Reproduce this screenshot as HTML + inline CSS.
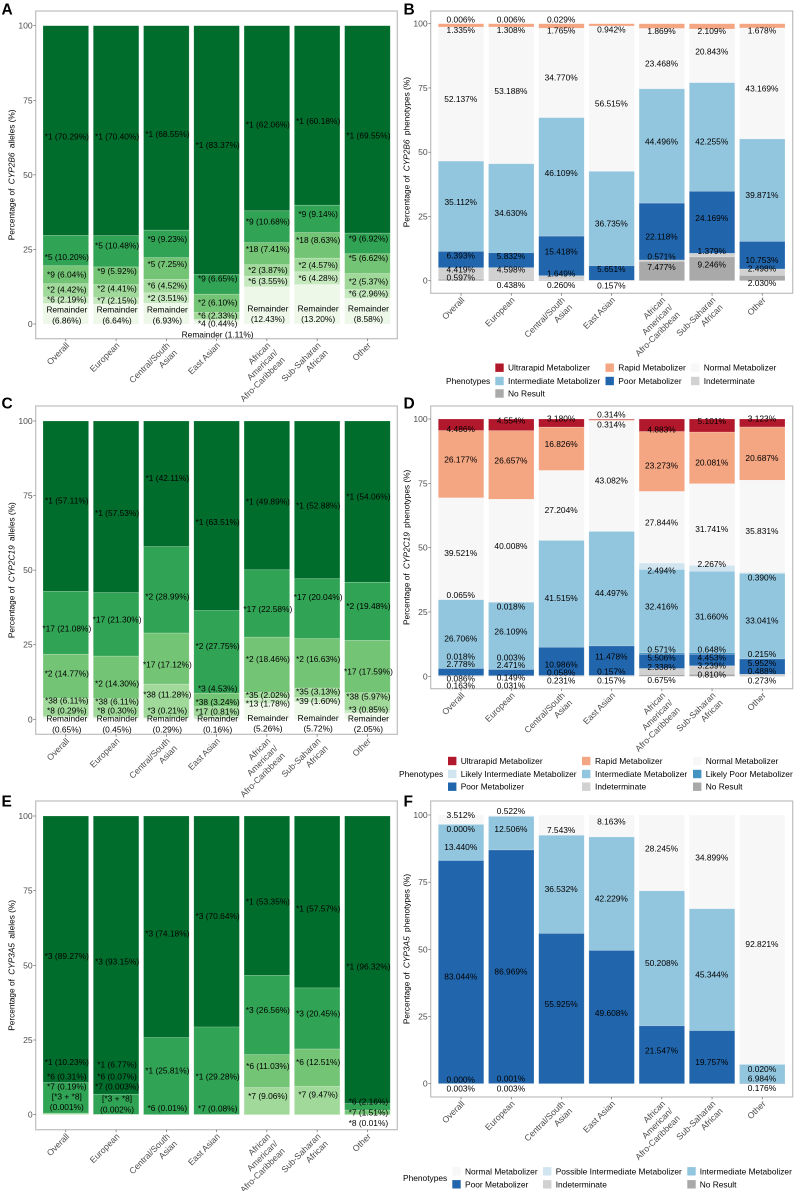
<!DOCTYPE html>
<html lang="en">
<head>
<meta charset="utf-8">
<title>CYP allele and phenotype frequencies</title>
<style>
html,body{margin:0;padding:0;background:#fff;}
svg{display:block;}
text{font-family:"Liberation Sans",Arial,sans-serif;}
</style>
</head>
<body>
<svg id="figure" xmlns="http://www.w3.org/2000/svg" width="796" height="1191" viewBox="0 0 796 1191"></svg>
<script>
const categories = ["Overall","European","Central/South\nAsian","East Asian","African\nAmerican/\nAfro-Caribbean","Sub-Saharan\nAfrican","Other"];
const yTicks = [0,25,50,75,100];

/* Panel A: CYP2B6 alleles */
const allelesA = [
 ["*1","*5","*9","*2","*6","Remainder\n"],
 ["*1","*5","*9","*2","*7","Remainder\n"],
 ["*1","*9","*5","*6","*2","Remainder\n"],
 ["*1","*9","*2","*6","*4","Remainder"],
 ["*1","*9","*18","*2","*6","Remainder\n"],
 ["*1","*9","*18","*2","*6","Remainder\n"],
 ["*1","*9","*5","*2","*6","Remainder\n"]
];
const valuesA = [
 [70.29,10.20,6.04,4.42,2.19,6.86],
 [70.40,10.48,5.92,4.41,2.15,6.64],
 [68.55,9.23,7.25,4.52,3.51,6.93],
 [83.37,6.65,6.10,2.33,0.44,1.11],
 [62.06,10.68,7.41,3.87,3.55,12.43],
 [60.18,9.14,8.63,4.57,4.28,13.20],
 [69.55,6.92,6.62,5.37,2.96,8.58]
];
const labelNudgeA = [
 [-1.95,-2.15,0.16,0.24,0.2,-0.43],
 [-2.0,1.9,1.61,0.96,0.1,-0.3],
 [-2.0,1.7,1.6,0.15,0,-0.47],
 [1.7,2.0,0.2,0.2,-1.2,-4.0],
 [-2.07,1.8,1.55,0.2,0.2,-2.75],
 [-1.85,1.6,1.8,0,0.1,-3.14],
 [-2,1.6,1.9,0,0.2,-0.83]
];

/* Panel C: CYP2C19 alleles */
const allelesC = [
 ["*1","*17","*2","*38","*8","Remainder\n"],
 ["*1","*17","*2","*38","*8","Remainder\n"],
 ["*1","*2","*17","*38","*3","Remainder\n"],
 ["*1","*2","*3","*38","*17","Remainder\n"],
 ["*1","*17","*2","*35","*13","Remainder\n"],
 ["*1","*17","*2","*35","*39","Remainder\n"],
 ["*1","*2","*17","*38","*3","Remainder\n"]
];
const valuesC = [
 [57.11,21.08,14.77,6.11,0.29,0.65],
 [57.53,21.30,14.30,6.11,0.30,0.45],
 [42.11,28.99,17.12,11.28,0.21,0.29],
 [63.51,27.75,4.53,3.24,0.81,0.16],
 [49.89,22.58,18.46,2.02,1.78,5.26],
 [52.88,20.04,16.63,3.13,1.60,5.72],
 [54.06,19.48,17.59,5.97,0.85,2.05]
];
const labelNudgeC = [
 [1.95,-1.95,1,2.27,2.1,-1.88],
 [-2.07,1.7,-2.07,2.2,2.3,-1.8],
 [1.9,-2.2,-2,2.13,2.5,-1.7],
 [-2.1,1.9,3.9,3.2,2,-1.64],
 [-2.1,-1.9,1.9,0.1,-0.9,-3.97],
 [-1.96,3.9,1.45,0.4,-0.37,-4.2],
 [1.8,1.8,-1.7,1.8,0.87,-2.5]
];

/* Panel E: CYP3A5 alleles */
const allelesE = [
 ["*3","*1","*6","*7","[*3 + *8]\n"],
 ["*3","*1","*6","*7","[*3 + *8]\n"],
 ["*3","*1","*6"],
 ["*3","*1","*7"],
 ["*1","*3","*6","*7"],
 ["*1","*3","*6","*7"],
 ["*1","*6","*7","*8"]
];
const valuesE = [
 [89.27,10.23,0.31,0.19,0.001],
 [93.15,6.77,0.07,0.003,0.002],
 [74.18,25.81,0.01],
 [70.64,29.28,0.08],
 [53.35,26.56,11.03,9.06],
 [57.57,20.45,12.51,9.47],
 [96.32,2.16,1.51,0.01]
];
const labelNudgeE = [
 [-2.2,12.1,12.4,9.3,4.35],
 [-2.2,13.4,12.7,9.4,3.56],
 [-2.2,1.9,2.2],
 [1.8,-2,2],
 [-2,1.67,1.7,1.7],
 [-2.2,1.7,1.9,2],
 [-2.18,1.75,-0.1,-2.7]
];

/* Panel B: CYP2B6 phenotypes */
const phenotypesB = ["Ultrarapid Metabolizer","Rapid Metabolizer","Normal Metabolizer","Intermediate Metabolizer","Poor Metabolizer","Indeterminate","No Result"];
const valuesB = [
 [0.006,1.335,52.137,35.112,6.393,4.419,0.597],
 [0.006,1.308,53.188,34.630,5.832,4.598,0.438],
 [0.029,1.765,34.770,46.109,15.418,1.649,0.260],
 [null,0.942,56.515,36.735,5.651,null,0.157],
 [null,1.869,23.468,44.496,22.118,0.571,7.477],
 [null,2.109,20.843,42.255,24.169,1.379,9.246],
 [null,1.678,43.169,39.871,10.753,2.498,2.030]
];
const labelNudgeB = [
 [1.7,-1.83,-1.9,1.63,1.5,1.6,0.87],
 [1.7,-1.84,1.7,-1.88,1.65,1.66,-1.9],
 [1.7,-1.8,-1.8,1.6,1.66,1.64,-1.82],
 [-1.86,-1.93,-1.88,1.56,-1.9],
 [-1.9,-1.83,1.69,-1.98,1.58,1.58],
 [-1.8,1.63,-1.83,1.67,1.61,1.61],
 [-1.88,-1.9,-1.89,-1.86,1.52,-1.92]
];

/* Panel D: CYP2C19 phenotypes */
const phenotypesD = ["Ultrarapid Metabolizer","Rapid Metabolizer","Normal Metabolizer","Likely Intermediate Metabolizer","Intermediate Metabolizer","Likely Poor Metabolizer","Poor Metabolizer","Indeterminate","No Result"];
const valuesD = [
 [4.486,26.177,39.521,0.065,26.706,0.018,2.778,0.086,0.163],
 [4.554,26.657,40.008,0.018,26.109,0.003,2.471,0.149,0.031],
 [3.180,16.826,27.204,null,41.515,null,10.986,0.058,0.231],
 [0.314,0.314,43.082,null,44.497,null,11.478,0.157,0.157],
 [4.883,23.273,27.844,2.494,32.416,0.571,5.506,2.338,0.675],
 [5.101,20.081,31.741,2.267,31.660,0.648,4.453,3.239,0.810],
 [3.123,20.687,35.831,0.390,33.041,0.215,5.952,0.488,0.273]
];
const labelNudgeD = [
 [-1.66,1.87,-1.72,1.87,-1.74,4.74,3.16,-1.1,-3.71],
 [1.76,1.78,1.79,-1.67,1.79,4.61,2.99,-0.63,-3.65],
 [1.85,1.86,-1.67,-1.68,-1.11,1.17,-1.68],
 [1.85,-1.63,-1.73,-1.74,1.73,1.71,-1.77],
 [-1.56,-1.64,1.88,-1.65,1.8,1.7,1.49,1.79,-1.77],
 [1.75,-1.76,-1.75,1.76,-1.78,1.67,0.98,1.72,0.38],
 [1.82,-1.71,-1.72,-1.77,-1.79,1.87,1.45,1.56,-1.7]
];

/* Panel F: CYP3A5 phenotypes */
const phenotypesF = ["Normal Metabolizer","Possible Intermediate Metabolizer","Intermediate Metabolizer","Poor Metabolizer","Indeterminate","No Result"];
const valuesF = [
 [3.512,0.000,13.440,83.044,0.000,0.003],
 [0.522,null,12.506,86.969,0.001,0.003],
 [7.543,null,36.532,55.925,null,null],
 [8.163,null,42.229,49.608,null,null],
 [28.245,null,50.208,21.547,null,null],
 [34.899,null,45.344,19.757,null,null],
 [92.821,0.020,6.984,0.176,null,null]
];
const labelNudgeF = [
 [1.76,-1.69,-1.67,-1.7,1.6,-1.86],
 [1.66,1.58,-1.69,1.99,-1.74],
 [-1.73,-1.69,1.69],
 [1.68,-1.72,1.6],
 [1.59,-1.65,1.63],
 [1.55,-1.73,-1.82],
 [-1.6,-1.71,-1.68,-1.7]
];

const greens = ["#006d2c","#31a354","#74c476","#a1d99b","#c7e9c0","#edf8e9"];
const phenotypeColors = {
 "Ultrarapid Metabolizer":"#b2182b",
 "Rapid Metabolizer":"#f4a582",
 "Normal Metabolizer":"#f7f7f7",
 "Likely Intermediate Metabolizer":"#d1e5f0",
 "Possible Intermediate Metabolizer":"#d1e5f0",
 "Intermediate Metabolizer":"#92c5de",
 "Likely Poor Metabolizer":"#4393c3",
 "Poor Metabolizer":"#2166ac",
 "Indeterminate":"#d1d1d1",
 "No Result":"#a9a9a9"
};

const NS = "http://www.w3.org/2000/svg";
const svg = document.getElementById("figure");

function make(parent, tag, attrs, txt){
  const el = document.createElementNS(NS, tag);
  for (const k in attrs) el.setAttribute(k, attrs[k]);
  if (txt !== undefined) el.textContent = txt;
  parent.appendChild(el);
  return el;
}
function formatPct(v, decimals){
  return v.toFixed(decimals) + "%";
}
function alleleText(name, v){
  const s = "(" + (v < 0.01 ? v.toFixed(3) : v.toFixed(2)) + "%)";
  if (name.endsWith("\n")) return [name.trim(), s];
  return [name + " " + s];
}

function drawAxes(g, p){
  const yOf = v => p.y0 - v * (p.y0 - p.y100) / 100;
  const frame = make(g, "rect", {x:p.left, y:p.top, width:p.right-p.left, height:p.bottom-p.top, fill:"#fff", stroke:"#bdbdbd", "stroke-width":1.2});
  
  

  yTicks.forEach(t => {
    const mark = make(g, "line", {x1:p.left-2.4, x2:p.left, y1:yOf(t), y2:yOf(t), stroke:"#555", "stroke-width":0.6});
    
    
    const lab = make(g, "text", {x:p.left-3, y:yOf(t), "text-anchor":"end", "dominant-baseline":"central", "font-size":8.6, fill:"#4d4d4d"}, String(t));
    
    
  });

  categories.forEach((c, i) => {
    const cx = p.barX0 + i * p.step + p.barW / 2;
    const mark = make(g, "line", {x1:cx, x2:cx, y1:p.bottom, y2:p.bottom+2.4, stroke:"#555", "stroke-width":0.6});
    
    
    c.split("\n").forEach((line, j) => {
      const lab = make(g, "text", {transform:"translate("+(cx+4)+","+(p.bottom+7.3)+") rotate(-45)", x:0, y:j*10.3, "text-anchor":"end", "font-size":8.7, fill:"#4d4d4d"}, line);
      
      
    });
  });

  const cy = (p.top + p.bottom) / 2;
  const tx = p.left - 24.2;
  const title = make(g, "text", {transform:"translate("+tx+","+cy+") rotate(-90)", "text-anchor":"middle", "dominant-baseline":"central", "font-size":8.3, fill:"#000"});
  
  
  make(title, "tspan", {}, "Percentage of ");
  make(title, "tspan", {"font-style":"italic", dx:2}, p.gene);
  make(title, "tspan", {dx:2}, " " + p.kind + " (%)");

  const letter = make(g, "text", {x:p.letterX, y:p.letterY, "font-size":15.5, "font-weight":"bold", fill:"#000"}, p.letter);
  
  
}

function drawStack(g, p, i, segments, nudges){
  const yOf = v => p.y0 - v * (p.y0 - p.y100) / 100;
  const x = p.barX0 + i * p.step;
  const cx = x + p.barW / 2 + p.labelDx;
  let top = 100;
  const labelQueue = [];
  let n = 0;
  segments.forEach(seg => {
    if (seg.value === null) return;
    const bottom = Math.max(top - seg.value, 0);
    const rect = make(g, "rect", {x:x, y:yOf(top), width:p.barW, height:Math.max(yOf(bottom)-yOf(top),0), fill:seg.color, stroke:"#fff", "stroke-opacity":0.3, "stroke-width":0.6});
    
    
    labelQueue.push({lines:seg.lines, y:yOf((top+bottom)/2 + (nudges[n]||0))});
    n++;
    top = bottom;
  });
  labelQueue.forEach(l => {
    l.lines.forEach((t, k) => {
      const ly = l.y + (k - (l.lines.length-1)/2) * 10.7;
      const lab = make(g, "text", {x:cx, y:ly, "text-anchor":"middle", "dominant-baseline":"central", "font-size":8.4, fill:"#000"}, t);
      
      
    });
  });
}

function drawAllelePanel(p, alleles, values, nudges){
  const g = make(svg, "g", {});
  
  
  drawAxes(g, p);
  categories.forEach((c, i) => {
    const segs = values[i].map((v, j) => ({value:v, color:greens[j], lines:alleleText(alleles[i][j], v)}));
    drawStack(g, p, i, segs, nudges[i]);
  });
}

function drawPhenotypePanel(p, phenotypes, values, nudges){
  const g = make(svg, "g", {});
  
  
  drawAxes(g, p);
  categories.forEach((c, i) => {
    const segs = values[i].map((v, j) => ({value:v, color:phenotypeColors[phenotypes[j]], lines: v === null ? [] : [formatPct(v, 3)]}));
    drawStack(g, p, i, segs, nudges[i]);
  });

  const leg = make(g, "g", {});
  
  
  const lt = make(leg, "text", {x:p.legend.titleX, y:p.legend.titleY, "dominant-baseline":"central", "font-size":8.4, fill:"#000"}, "Phenotypes");
  
  
  phenotypes.forEach((name, j) => {
    const col = j % 3, row = Math.floor(j / 3);
    const sx = p.legend.swatchX[col], tx = p.legend.textX[col], ry = p.legend.rowY[row];
    const sw = make(leg, "rect", {x:sx, y:ry-4.2, width:8.4, height:8.4, fill:phenotypeColors[name]});
    
    
    const tt = make(leg, "text", {x:tx, y:ry, "dominant-baseline":"central", "font-size":8.4, fill:"#000"}, name);
    
    
  });
}

const leftX = {left:35.7, right:397.3, barX0:43, step:50.27, barW:45.6, labelDx:1, letterX:1.5};
const rightX = {left:430.7, right:792.7, barX0:438.3, step:50.2, barW:45.5, labelDx:-0.3, letterX:403.5};

drawAllelePanel(Object.assign({}, leftX, {letter:"A", letterY:14.3, gene:"CYP2B6", kind:"alleles", top:11, bottom:338.7, y100:25.7, y0:324}), allelesA, valuesA, labelNudgeA);
drawPhenotypePanel(Object.assign({}, rightX, {letter:"B", letterY:14.3, gene:"CYP2B6", kind:"phenotypes", top:11, bottom:293.3, y100:23.7, y0:280.7,
  legend:{titleX:446, titleY:381, swatchX:[495.3,605.5,691], textX:[508,618.3,703.7], rowY:[367.7,381,393.5]}}), phenotypesB, valuesB, labelNudgeB);
drawAllelePanel(Object.assign({}, leftX, {letter:"C", letterY:408.7, gene:"CYP2C19", kind:"alleles", top:406, bottom:734.3, y100:421, y0:719.3}), allelesC, valuesC, labelNudgeC);
drawPhenotypePanel(Object.assign({}, rightX, {letter:"D", letterY:408.7, gene:"CYP2C19", kind:"phenotypes", top:406, bottom:688.7, y100:419, y0:676.3,
  legend:{titleX:399, titleY:774, swatchX:[448,582,693], textX:[460.7,595,705.7], rowY:[761,774,786.7]}}), phenotypesD, valuesD, labelNudgeD);
drawAllelePanel(Object.assign({}, leftX, {letter:"E", letterY:806.7, gene:"CYP3A5", kind:"alleles", top:801, bottom:1129.7, y100:816, y0:1114.7}), allelesE, valuesE, labelNudgeE);
drawPhenotypePanel(Object.assign({}, rightX, {letter:"F", letterY:806.7, gene:"CYP3A5", kind:"phenotypes", top:801, bottom:1097, y100:815, y0:1083.7,
  legend:{titleX:403, titleY:1178, swatchX:[452.3,543,687.3], textX:[465,555.7,699.7], rowY:[1171.3,1184.3]}}), phenotypesF, valuesF, labelNudgeF);
</script>
</body>
</html>
